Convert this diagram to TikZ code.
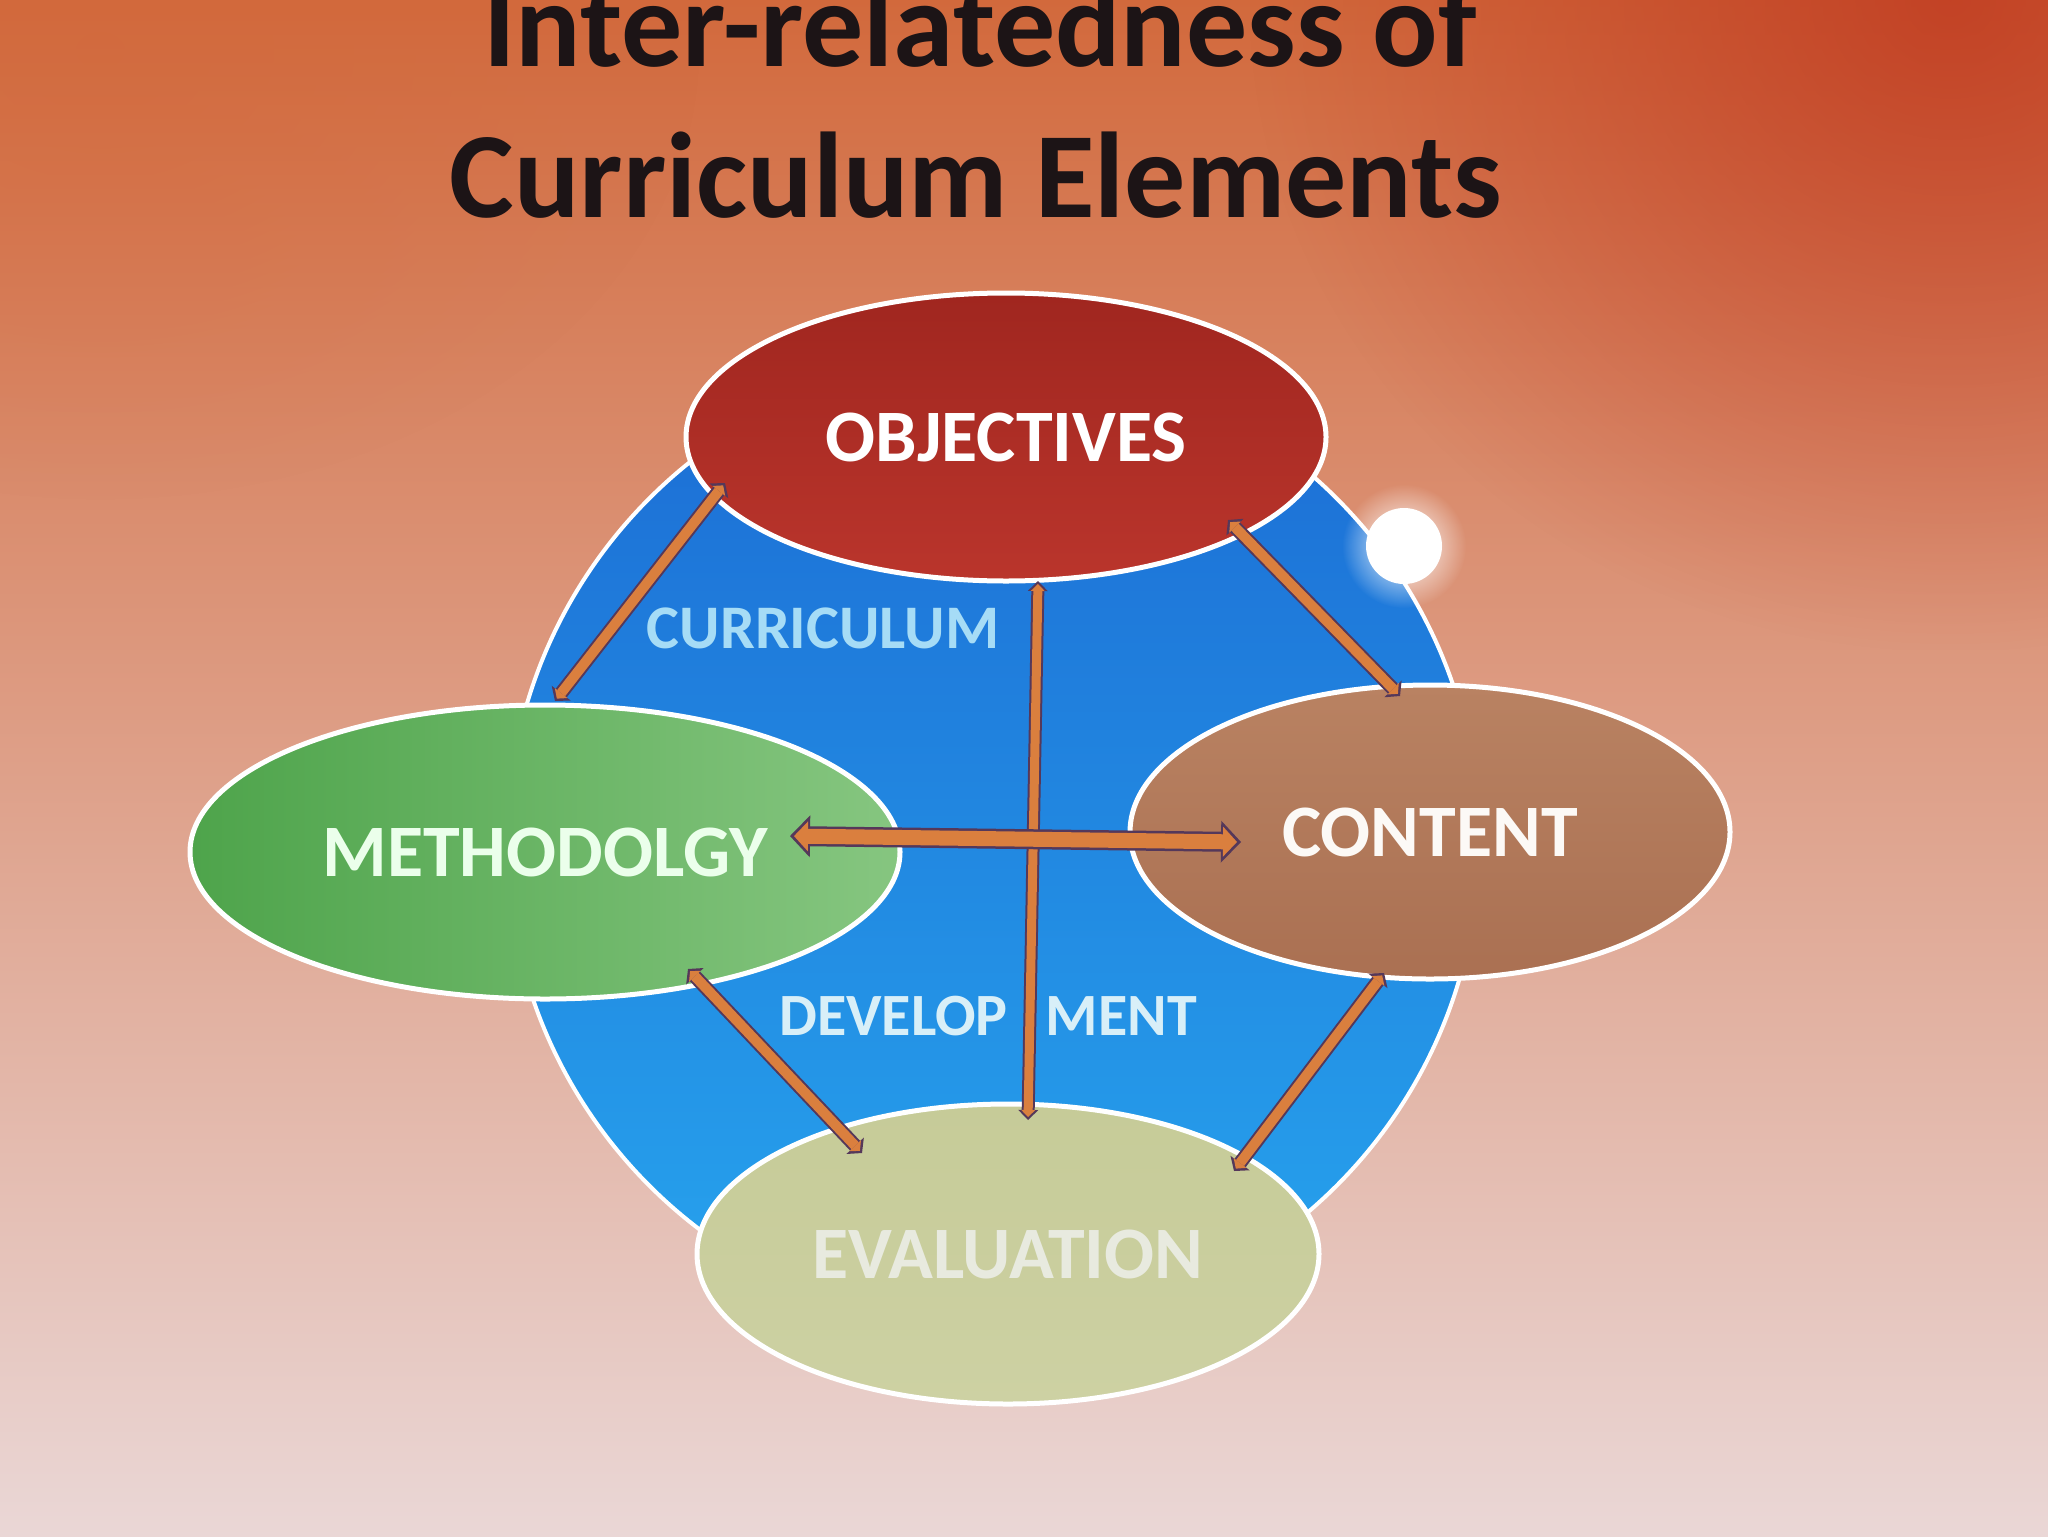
\documentclass[tikz,border=0pt]{standalone}
\usepackage{fontspec}
\setmainfont{Carlito}
\usetikzlibrary{arrows.meta,shapes.geometric,fadings}
\definecolor{bgtop}{HTML}{D2693C}
\definecolor{bgmid}{HTML}{DFA88E}
\definecolor{bgbot}{HTML}{EAD7D6}
\definecolor{bgred}{HTML}{BE361E}
\definecolor{titlec}{HTML}{1C1416}
\definecolor{bluetop}{HTML}{1C6CD4}
\definecolor{bluebot}{HTML}{27A4EE}
\definecolor{objtop}{HTML}{A0261F}
\definecolor{objbot}{HTML}{BA352C}
\definecolor{methl}{HTML}{4EA44B}
\definecolor{methr}{HTML}{86C680}
\definecolor{contt}{HTML}{B98262}
\definecolor{contb}{HTML}{AA7052}
\definecolor{evalc}{HTML}{CDD1A3}
\definecolor{evalt}{HTML}{C6CB98}
\definecolor{arrdark}{HTML}{55385A}
\definecolor{arrfill}{HTML}{DA7F3E}
\definecolor{curtext}{HTML}{A6DCF6}
\definecolor{devtext}{HTML}{D8EFF8}
\definecolor{evtext}{HTML}{E8EADF}
\tikzfading[name=softround, inner color=transparent!0, outer color=transparent!100]
\begin{document}
\begin{tikzpicture}[x=0.5pt,y=-0.5pt,
  elem/.style={ellipse, draw=white, line width=2.5pt, inner sep=0pt, text=white},
  lbl/.style={font=\fontsize{37}{37}\selectfont\bfseries},
  titlefont/.style={font=\fontsize{61}{61}\selectfont\bfseries, text=titlec, inner sep=0pt},
  arrAo/.style={draw=arrdark, line width=10pt,
     {Triangle[length=10pt,width=21pt,line width=0pt]}-{Triangle[length=10pt,width=21pt,line width=0pt]}},
  arrAi/.style={draw=arrfill, line width=7.5pt, shorten <=2pt, shorten >=2pt,
     {Triangle[length=7pt,width=15pt,line width=0pt]}-{Triangle[length=7pt,width=15pt,line width=0pt]}},
  arrBo/.style={draw=arrdark, line width=7pt,
     {Triangle[length=5pt,width=12pt,line width=0pt]}-{Triangle[length=5pt,width=12pt,line width=0pt]}},
  arrBi/.style={draw=arrfill, line width=5pt, shorten <=1.5pt, shorten >=1.5pt,
     {Triangle[length=3.5pt,width=8pt,line width=0pt]}-{Triangle[length=3.5pt,width=8pt,line width=0pt]}},
  arrCo/.style={draw=arrdark, line width=6.5pt,
     {Triangle[length=5pt,width=10pt,line width=0pt]}-{Triangle[length=5pt,width=10pt,line width=0pt]}},
  arrCi/.style={draw=arrfill, line width=4.5pt, shorten <=1.5pt, shorten >=1.5pt,
     {Triangle[length=3.5pt,width=7pt,line width=0pt]}-{Triangle[length=3.5pt,width=7pt,line width=0pt]}},
]
\useasboundingbox (0,0) rectangle (2048,1536);
% background
\shade[top color=bgtop, middle color=bgmid, bottom color=bgbot] (0,0) rectangle (2048,1536);
\fill[bgred, opacity=0.75, path fading=softround] (1250,-650) rectangle (2650,650);
\fill[bgtop, opacity=0.35, path fading=softround] (-500,-400) rectangle (700,500);

% title
\node[titlefont, anchor=base] (t1) at (980,67) {Inter-relatedness of};
\node[titlefont, anchor=base] (t2) at (976,217) {Curriculum Elements};

% blue disk
\node[circle, draw=white, line width=2pt, top color=bluetop, bottom color=bluebot,
      minimum size=972pt*0.5, inner sep=0pt] (disk) at (993,842) {};
% glare
\fill[white, path fading=softround] (1404,546) circle (62);
\fill[white] (1404,546) circle (38);

% elements
\node[elem, top color=objtop, bottom color=objbot, minimum width=320pt, minimum height=144pt,
      lbl] (obj) at (1006,437) {OBJECTIVES};
\node[elem, left color=methl, right color=methr, minimum width=355pt, minimum height=147pt,
      lbl, text=white!92!green] (meth) at (545,852) {METHODOLGY};
\node[elem, top color=contt, bottom color=contb, minimum width=300pt, minimum height=147pt,
      lbl, text=white!95!brown] (cont) at (1430,832) {CONTENT};
\node[elem, top color=evalt, bottom color=evalc, minimum width=311pt, minimum height=150pt,
      lbl, text=evtext] (eval) at (1008,1254) {EVALUATION};

% labels on disk
\node[font=\fontsize{31}{31}\selectfont\bfseries, text=curtext] (curr) at (823,628) {CURRICULUM};
\node[font=\fontsize{30}{30}\selectfont\bfseries, text=devtext] (dev) at (988,1016) {DEVELOP\hspace{19pt}MENT};

% connector end points
\coordinate (om1) at (725,483);  \coordinate (om2) at (555,701);
\coordinate (oc1) at (1228,520); \coordinate (oc2) at (1400,696);
\coordinate (oe1) at (1038,581); \coordinate (oe2) at (1028,1120);
\coordinate (mc1) at (790,836);  \coordinate (mc2) at (1241,842);
\coordinate (me1) at (688,969);  \coordinate (me2) at (862,1153);
\coordinate (ce1) at (1384,973); \coordinate (ce2) at (1234,1171);

% connectors
\draw[arrBo] (om1) -- (om2); \draw[arrBi] (om1) -- (om2);
\draw[arrBo] (oc1) -- (oc2); \draw[arrBi] (oc1) -- (oc2);
\draw[arrCo] (oe1) -- (oe2); \draw[arrCi] (oe1) -- (oe2);
\draw[arrAo] (mc1) -- (mc2); \draw[arrAi] (mc1) -- (mc2);
\draw[arrBo] (me1) -- (me2); \draw[arrBi] (me1) -- (me2);
\draw[arrBo] (ce1) -- (ce2); \draw[arrBi] (ce1) -- (ce2);
\end{tikzpicture}
\end{document}
